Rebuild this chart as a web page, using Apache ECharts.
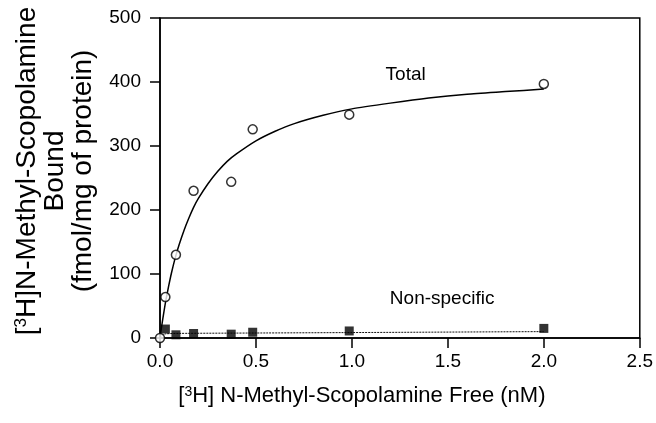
<!DOCTYPE html>
<html lang="en">
<head>
    <meta charset="utf-8">
    <title>Scopolamine binding</title>
    <script src="https://cdn.jsdelivr.net/npm/echarts@6/dist/echarts.min.js"></script>
</head>
<body style="margin:0;background:#fff;">
    <div id="main" style="width:656px;height:423px;"></div>
    <script type="text/javascript">
        // measured points (free nM vs bound fmol/mg)
        var freeConc = [0, 0.028, 0.083, 0.175, 0.371, 0.483, 0.986, 2.0];
        var totalBound = [0, 64, 130, 230, 244, 326, 349, 397];
        var nsFree = [0.028, 0.083, 0.175, 0.371, 0.483, 0.986, 2.0];
        var nsBound = [14, 5, 7, 6, 9, 11, 15];

        // fitted curves
        var fitTotalX = [0, 0.005, 0.01, 0.02, 0.03, 0.045, 0.06, 0.08, 0.1, 0.125, 0.15, 0.175, 0.2, 0.25,
            0.3, 0.35, 0.4, 0.5, 0.6, 0.7, 0.85, 1.0, 1.2, 1.4, 1.6, 1.8, 2.0];
        var fitTotalY = [0, 11, 21, 40, 58, 81, 102, 126, 146, 168, 187, 204, 218, 241,
            260, 276, 288, 308, 323, 335, 348, 358, 367, 375, 381, 385, 389];
        var fitNsX = [0, 0.01, 0.03, 0.1, 0.5, 1.0, 2.0];
        var fitNsY = [0, 4, 6.5, 7.2, 7.8, 8.5, 10];

        var xTicks = [0, 0.5, 1.0, 1.5, 2.0, 2.5];
        var yTicks = [0, 100, 200, 300, 400, 500];

        var pairs = function (xs, ys) {
            return xs.map(function (x, i) { return [x, ys[i]]; });
        };

        var font = 'Liberation Sans';
        var myChart = echarts.init(document.getElementById('main'));

        var option = {
            animation: false,
            backgroundColor: '#fff',
            textStyle: { fontFamily: font, color: '#000' },
            grid: {
                left: 160, right: 16, top: 18, bottom: 85,
                show: true, borderColor: '#000', borderWidth: 1.5
            },
            xAxis: {
                type: 'value',
                min: xTicks[0], max: xTicks[xTicks.length - 1], interval: 0.5,
                axisLine: { show: true, lineStyle: { color: '#000', width: 1.5 } },
                axisTick: { show: true, length: 10, lineStyle: { color: '#000', width: 1.5 } },
                splitLine: { show: false },
                axisLabel: {
                    color: '#000', fontSize: 19, fontFamily: font, margin: 14,
                    formatter: function (v) { return v.toFixed(1); }
                },
                name: '[{sup|3}H] N-Methyl-Scopolamine Free (nM)',
                nameLocation: 'middle',
                nameGap: 47,
                nameTextStyle: {
                    color: '#000', fontSize: 22, fontFamily: font,
                    padding: [0, 76, 0, 0],
                    rich: {
                        sup: { fontSize: 14, fontFamily: font, verticalAlign: 'top', padding: [0, 0, 8, 0] }
                    }
                }
            },
            yAxis: {
                type: 'value',
                min: yTicks[0], max: yTicks[yTicks.length - 1], interval: 100,
                axisLine: { show: true, lineStyle: { color: '#000', width: 1.5 } },
                axisTick: { show: true, length: 10, lineStyle: { color: '#000', width: 1.5 } },
                splitLine: { show: false },
                axisLabel: { color: '#000', fontSize: 19, fontFamily: font, margin: 19 },
                name: '[{sup|3}H]N-Methyl-Scopolamine\nBound\n(fmol/mg of protein)',
                nameLocation: 'middle',
                nameRotate: 90,
                nameGap: 63,
                nameTextStyle: {
                    color: '#000', fontSize: 28, fontFamily: font, lineHeight: 28,
                    padding: [0, 0, 0, 14],
                    rich: {
                        sup: { fontSize: 17, fontFamily: font, verticalAlign: 'top', padding: [0, 0, 10, 0] }
                    }
                }
            },
            series: [{
                name: 'Total fit',
                type: 'line',
                data: pairs(fitTotalX, fitTotalY),
                smooth: 0.2,
                showSymbol: false,
                lineStyle: { color: '#000', width: 1.5 },
                markPoint: {
                    symbolSize: 0,
                    label: { show: true, position: 'inside', formatter: '{b}', color: '#000', fontSize: 19, fontFamily: font },
                    data: [{ name: 'Total', coord: [1.28, 412] }]
                },
                z: 2
            }, {
                name: 'Non-specific fit',
                type: 'line',
                data: pairs(fitNsX, fitNsY),
                smooth: 0.2,
                showSymbol: false,
                lineStyle: { color: '#111', width: 1, type: [2, 1] },
                markPoint: {
                    symbolSize: 0,
                    label: { show: true, position: 'inside', formatter: '{b}', color: '#000', fontSize: 19, fontFamily: font },
                    data: [{ name: 'Non-specific', coord: [1.47, 61] }]
                },
                z: 2
            }, {
                name: 'Total',
                type: 'scatter',
                data: pairs(freeConc, totalBound),
                symbol: 'circle',
                symbolSize: 9,
                itemStyle: { color: '#fff', borderColor: '#000', borderWidth: 1.5 },
                z: 4
            }, {
                name: 'Non-specific',
                type: 'scatter',
                data: pairs(nsFree, nsBound),
                symbol: 'rect',
                symbolSize: 9,
                itemStyle: { color: '#000' },
                z: 4
            }]
        };
        myChart.setOption(option);
    </script>
</body>
</html>
